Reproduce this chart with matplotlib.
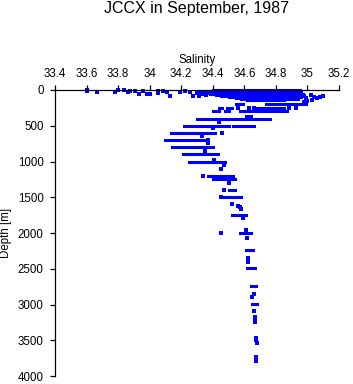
import numpy as np
import matplotlib
matplotlib.use("Agg")
import matplotlib.pyplot as plt

plt.rcParams['font.family'] = ['Liberation Sans', 'DejaVu Sans']

# shallow scattered samples (salinity, depth)
shallow_sal = [33.60, 33.60, 33.665, 33.78, 33.80, 33.84, 33.86, 33.875, 33.91, 33.93,
               33.96, 33.98, 34.00, 34.05, 34.05, 34.085, 34.11, 34.13, 34.19, 34.225,
               34.255, 34.275, 34.30, 34.33, 34.31, 34.36]
shallow_depth = [5, 20, 28, 28, 5, 5, 28, 20, 20, 50,
                 20, 56, 56, 14, 40, 20, 28, 84, 28, 14,
                 28, 84, 40, 60, 90, 70]

# salty near-surface samples on the right
salty_sal = [34.97, 34.99, 35.02, 35.04, 35.06, 35.08, 35.10, 35.03, 35.00, 34.98]
salty_depth = [90, 110, 70, 100, 115, 95, 80, 140, 150, 170]

# horizontal runs of samples: depth, min salinity, max salinity
band_depth = [0, 10, 20, 30, 40, 50, 60, 75, 90, 100, 110, 125, 140,
              200, 200, 200,
              250, 250, 250,
              300, 300, 300, 300,
              400, 400, 400, 400,
              500, 500, 500,
              600, 700, 800, 900, 1000,
              1200, 1250, 1400, 1500, 1750,
              2000, 2240, 2490, 2740, 2990]
band_smin = [34.40, 34.36, 34.33, 34.30, 34.35, 34.38, 34.40, 34.42, 34.45, 34.50, 34.55, 34.58, 34.62,
             34.55, 34.74, 34.89,
             34.44, 34.49, 34.68,
             34.40, 34.48, 34.57, 34.61,
             34.30, 34.38, 34.49, 34.70,
             34.22, 34.53, 34.62,
             34.135, 34.10, 34.14, 34.21, 34.25,
             34.37, 34.40, 34.50, 34.47, 34.52,
             34.57, 34.61, 34.62, 34.645, 34.65]
band_smax = [34.95, 34.96, 34.94, 34.93, 34.90, 34.97, 34.92, 34.98, 34.93, 34.96, 34.90, 34.94, 34.85,
             34.59, 34.87, 34.99,
             34.46, 34.52, 34.85,
             34.44, 34.50, 34.59, 34.87,
             34.37, 34.48, 34.69, 34.76,
             34.50, 34.61, 34.66,
             34.415, 34.35, 34.40, 34.435, 34.48,
             34.53, 34.54, 34.54, 34.58, 34.61,
             34.64, 34.655, 34.67, 34.675, 34.68]

# single deeper samples
deep_sal = [34.56, 34.63, 34.66, 34.88, 34.93, 34.64, 34.44, 34.62, 34.40, 34.46,
            34.33, 34.37, 34.37, 34.35, 34.41, 34.47, 34.47, 34.45, 34.34, 34.50,
            34.47, 34.45, 34.52, 34.56, 34.57, 34.58, 34.59, 34.61, 34.45, 34.62,
            34.625, 34.625, 34.66, 34.65, 34.66, 34.67, 34.67, 34.67, 34.675, 34.675,
            34.68, 34.675, 34.675]
deep_depth = [250, 250, 250, 250, 250, 380, 450, 380, 530, 600,
              640, 700, 740, 850, 980, 1035, 1050, 1100, 1200, 1300,
              1400, 1500, 1600, 1620, 1630, 1660, 1790, 1960, 2000, 2070,
              2350, 2400, 2850, 2900, 3090, 3175, 3220, 3250, 3470, 3500,
              3540, 3735, 3790]

fig = plt.figure(figsize=(3.53, 3.84), dpi=100)
ax = fig.add_axes([55 / 353, 8 / 384, 284 / 353, 286 / 384])

ax.hlines(band_depth, band_smin, band_smax, colors='blue', lw=2.2,
          capstyle='projecting', clip_on=False)
for s, d in [(shallow_sal, shallow_depth), (salty_sal, salty_depth), (deep_sal, deep_depth)]:
    ax.plot(s, d, 's', color='blue', ms=2.6, mew=0, clip_on=False)

ax.set_xlim(33.4, 35.2)
ax.set_ylim(4000, 0)
ax.set_xticks(np.round(np.arange(33.4, 35.21, 0.2), 1))
ax.set_xticklabels(['33.4', '33.6', '33.8', '34', '34.2', '34.4', '34.6', '34.8', '35', '35.2'])
ax.set_yticks(range(0, 4001, 500))

ax.xaxis.tick_top()
ax.xaxis.set_label_position('top')
ax.spines['bottom'].set_visible(False)
ax.spines['right'].set_visible(False)
for sp in ['top', 'left']:
    ax.spines[sp].set_linewidth(0.9)
ax.tick_params(axis='both', direction='out', length=3.6, width=0.9,
               labelsize=8.3, pad=3.4)
ax.tick_params(axis='y', pad=4.5)

ax.set_xlabel('Salinity', fontsize=8.3, labelpad=4)
ax.set_ylabel('Depth [m]', fontsize=8.3, labelpad=4)
fig.text(196 / 353, 1 - 1 / 384, 'JCCX in September, 1987', ha='center', va='top', fontsize=11.5)

fig.savefig('out.png', dpi=100)
